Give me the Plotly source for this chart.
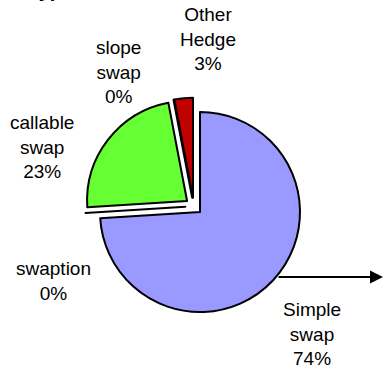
import plotly.graph_objects as go

# Hedge instruments by type (share of total, %)
labels = ["Simple swap", "swaption", "callable swap", "slope swap", "Other Hedge"]
values = [74, 0, 23, 0, 3]
colors = ["#9999FF", "#9999FF", "#66FF33", "#66FF33", "#C00000"]

# label text split over lines, with label anchor positions (pixels)
label_lines = [["Simple", "swap"], ["swaption"], ["callable", "swap"], ["slope", "swap"], ["Other", "Hedge"]]
label_x = [312, 53, 42, 118, 208]
label_y = [334, 281, 147, 72, 39]

W, H = 384, 369
pull = 0.085
cx, cy, r = 193.8, 206.2, 100.0
half = r * (1 + pull)

fig = go.Figure(go.Pie(
    labels=labels,
    values=values,
    sort=False,
    direction="clockwise",
    rotation=0,
    pull=[pull] * len(values),
    marker=dict(colors=colors, line=dict(color="black", width=2)),
    textinfo="none",
    hoverinfo="label+percent",
    showlegend=False,
    domain=dict(x=[(cx - half) / W, (cx + half) / W],
                y=[1 - (cy + half) / H, 1 - (cy - half) / H]),
))

total = sum(values)
annotations = []
for lines, v, x, y in zip(label_lines, values, label_x, label_y):
    text = "<br>".join(lines + [f"{round(100 * v / total)}%"])
    annotations.append(dict(
        x=x / W, y=1 - y / H, xref="paper", yref="paper",
        text=text, showarrow=False, align="center",
        xanchor="center", yanchor="middle",
        font=dict(family="Liberation Sans, Arial", size=19, color="black"),
    ))

# pointer arrow leaving the pie to the right
annotations.append(dict(
    x=384 / W, y=1 - 277 / H, ax=-107, ay=0,
    xref="paper", yref="paper", axref="pixel", ayref="pixel",
    text="", showarrow=True, arrowhead=2, arrowsize=1.3, arrowwidth=2,
    arrowcolor="black", standoff=0,
))

# title, sitting just above the visible area
annotations.append(dict(
    x=26 / W, y=1 - 3 / H, xref="paper", yref="paper",
    text="<b>Type</b>", showarrow=False, xanchor="left", yanchor="bottom",
    font=dict(family="Liberation Sans, Arial", size=20, color="black"),
))

fig.update_layout(
    width=W, height=H,
    margin=dict(l=0, r=0, t=0, b=0),
    paper_bgcolor="white",
    plot_bgcolor="white",
    annotations=annotations,
)

fig.write_html("out.html")
